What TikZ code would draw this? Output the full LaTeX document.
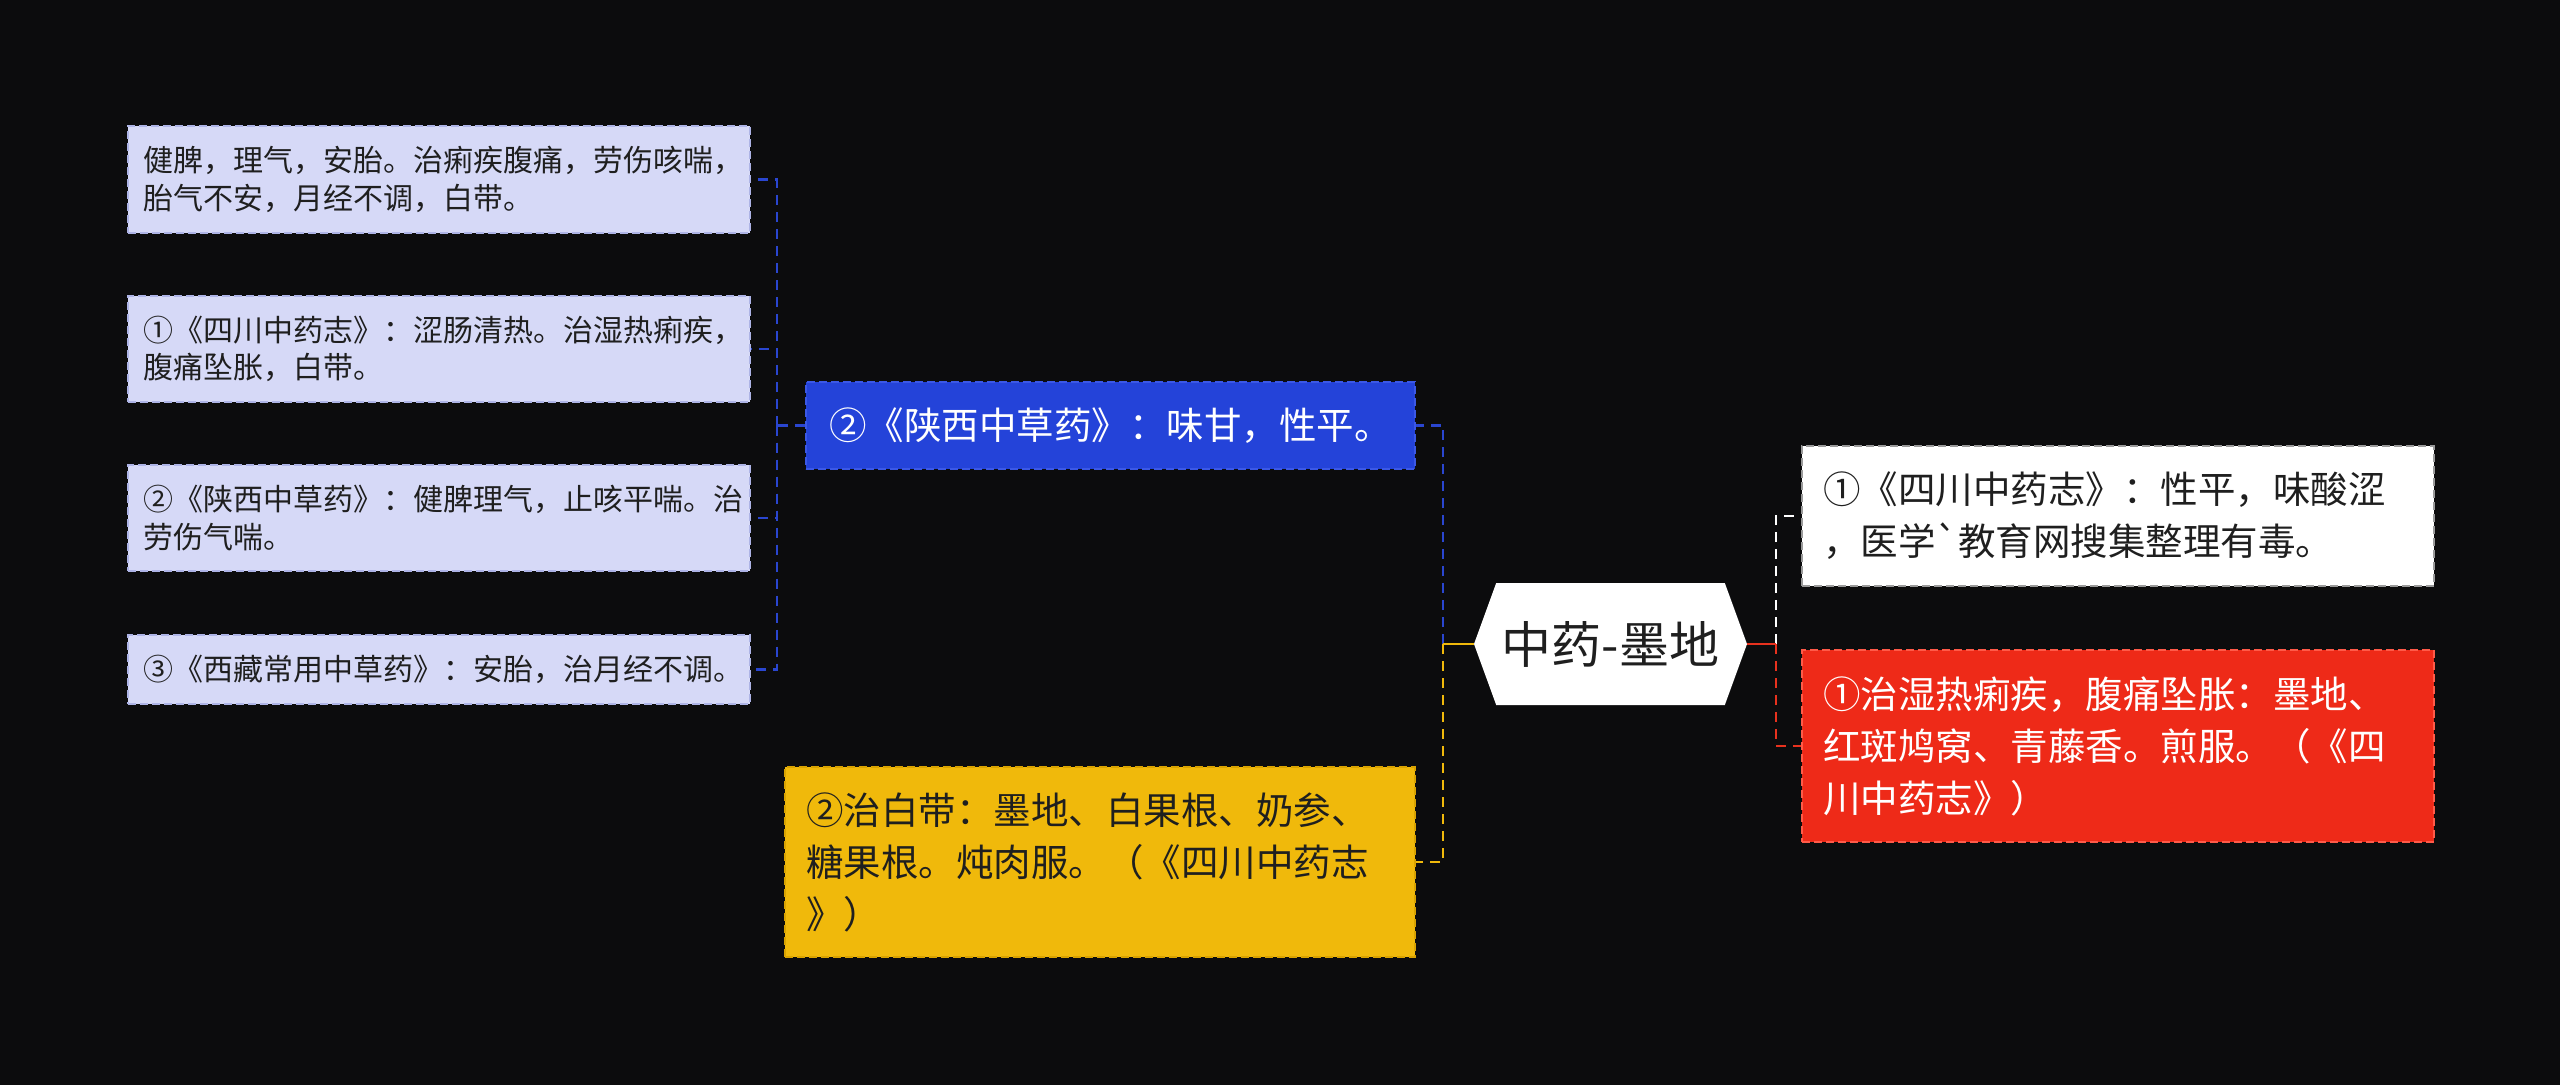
\documentclass[tikz,border=0pt]{standalone}
\usepackage{fontspec}
\setmainfont{Noto Sans CJK SC}
\newfontfamily\cjkplain{Noto Sans CJK SC}
\usetikzlibrary{shapes.symbols}

\definecolor{bgdark}{HTML}{0C0C0D}
\definecolor{inkdark}{HTML}{1F1F1F}
\definecolor{leaffill}{HTML}{D6D9F7}
\definecolor{leafedge}{HTML}{AEB4E6}
\definecolor{bluefill}{HTML}{2443D9}
\definecolor{blueedge}{HTML}{3B58E6}
\definecolor{yellowfill}{HTML}{F0B90B}
\definecolor{yellowedge}{HTML}{D9A300}
\definecolor{redfill}{HTML}{EE2A18}
\definecolor{rededge}{HTML}{FF5A48}
\definecolor{greyedge}{HTML}{9A9A9A}
\definecolor{linkblue}{HTML}{2A46D0}
\definecolor{linkyellow}{HTML}{F0B90B}
\definecolor{linkred}{HTML}{E8321E}

\tikzset{
  boxedge/.style={line width=2pt, dash pattern=on 8pt off 4pt},
  leafbox/.style={boxedge, draw=leafedge, fill=leaffill, rectangle, anchor=west,
    minimum width=622pt, text width=592pt, inner xsep=15pt, align=left,
    text=inkdark, font=\cjkplain\fontsize{30}{37.5}\selectfont},
  branchbox/.style={boxedge, rectangle, anchor=west, align=left,
    font=\cjkplain\fontsize{37.5}{52}\selectfont},
  link/.style={line width=2.5pt, dash pattern=on 10pt off 7pt},
  stub/.style={line width=2.5pt},
}

\begin{document}
\begin{tikzpicture}[x=1pt,y=-1pt]
\fill[bgdark] (0,0) rectangle (2560,1085);
\useasboundingbox (0,0) rectangle (2560,1085);

% centre
\node[signal, signal to=west and east, signal pointer angle=140, fill=white,
  minimum width=273pt, minimum height=122pt, inner sep=0pt, text=inkdark,
  font=\cjkplain\fontsize{50}{60}\selectfont] (root) at (1610.5,644) {中药-墨地};

% left branch
\node[branchbox, draw=blueedge, fill=bluefill, text=white, minimum width=609pt,
  text width=563pt, inner xsep=23pt, minimum height=87pt] (b1) at (805,425.5)
  {②《陕西中草药》：味甘，性平。};
\node[branchbox, draw=yellowedge, fill=yellowfill, text=inkdark, minimum width=630pt,
  text width=588pt, inner xsep=21pt, minimum height=190pt] (y1) at (784,862)
  {②治白带：墨地、白果根、奶参、\\糖果根。炖肉服。（《四川中药志\\》）};

% leaves of b1
\node[leafbox, minimum height=107pt] (l1) at (127,179.5)
  {健脾，理气，安胎。治痢疾腹痛，劳伤咳喘，\\胎气不安，月经不调，白带。};
\node[leafbox, minimum height=106pt] (l2) at (127,349)
  {①《四川中药志》：涩肠清热。治湿热痢疾，\\腹痛坠胀，白带。};
\node[leafbox, minimum height=106pt] (l3) at (127,518)
  {②《陕西中草药》：健脾理气，止咳平喘。治\\劳伤气喘。};
\node[leafbox, minimum height=69pt] (l4) at (127,669.5)
  {③《西藏常用中草药》：安胎，治月经不调。};

% right branch
\node[branchbox, draw=greyedge, fill=white, text=inkdark, minimum width=632pt,
  text width=590pt, inner xsep=21pt, minimum height=140pt] (w1) at (1801,516)
  {①《四川中药志》：性平，味酸涩\\，医学`教育网搜集整理有毒。};
\node[branchbox, draw=rededge, fill=redfill, text=white, minimum width=632pt,
  text width=590pt, inner xsep=21pt, minimum height=192pt] (r1) at (1801,746)
  {①治湿热痢疾，腹痛坠胀：墨地、\\红斑鸠窝、青藤香。煎服。（《四\\川中药志》）};

\coordinate (jb) at (777,425.5);
\coordinate (jl) at (1443,644);
\coordinate (jr) at (1776,644);

% connectors
\draw[link, linkblue] (b1.west) -- (jb);
\foreach \leaf in {l1,l2,l3,l4}
  \draw[link, linkblue] (jb) |- (\leaf.east);
\draw[link, linkblue] (jl) |- (b1.east);
\draw[link, linkyellow] (jl) |- (y1.east);
\draw[stub, linkyellow] (root.west) -- (jl);
\draw[link, white] (jr) |- (w1.west);
\draw[link, linkred] (jr) |- (r1.west);
\draw[stub, linkred] (root.east) -- (jr);
\end{tikzpicture}
\end{document}
